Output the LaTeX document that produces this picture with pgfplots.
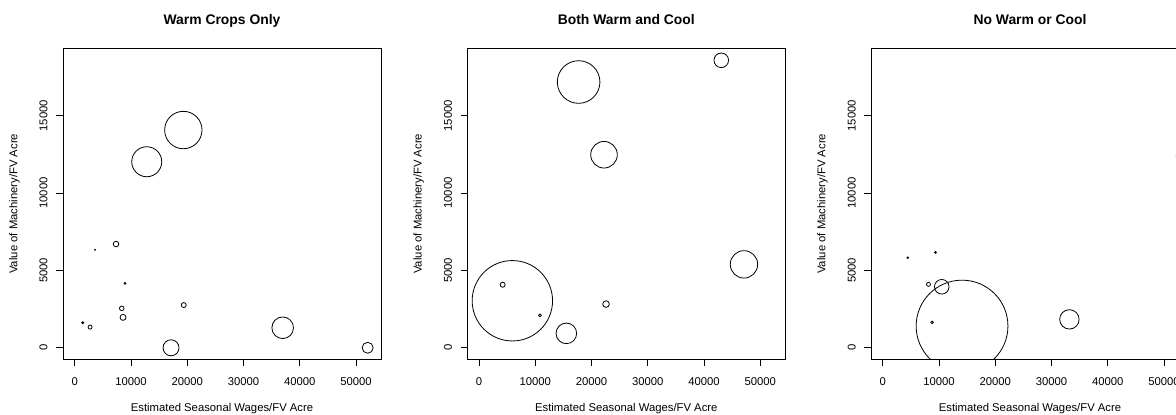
\documentclass[border=0pt]{standalone}
\usepackage{pgfplots}
\pgfplotsset{compat=1.18}
\usepackage{fontspec}
\setmainfont{Liberation Sans}

\pgfplotstableread{
x y r
19300 14076 18.7
12796 12026 15
7340 6705 2.8
3608 6336 0.5
8940 4164 0.9
8353 2547 2.3
8584 1966 3
19371 2761 2.5
1422 1616 1
2719 1338 2
17114 0 8
36965 1293 10.8
52070 0 5.5
}\warm

\pgfplotstableread{
x y r
17700 17179 21.3
43060 18583 7.3
22214 12479 13.3
47094 5392 13.7
5918 3039 40.2
4194 4073 2.5
10840 2095 1.4
22570 2826 3.3
15515 931 10.3
}\both

\pgfplotstableread{
x y r
14093 1403 45.9
10485 3944 7.3
8121 4099 2
4443 5819 0.9
9365 6168 0.9
8761 1642 1.3
33179 1836 9.7
52300 12350 0.8
}\none

\pgfplotsset{
  rpanel/.style={
    anchor=south west,
    width=318pt, height=311pt, scale only axis,
    xmin=-2094, xmax=54444, ymin=-745, ymax=19359,
    xtick={0,10000,20000,30000,40000,50000},
    ytick={0,5000,10000,15000},
    scaled ticks=false,
    /pgf/number format/.cd, fixed, set thousands separator={}, assume math mode=true, /pgfplots/.cd,
    xtick pos=bottom, ytick pos=left,
    tick align=outside,
    major tick length=6.7pt,
    tick style={line width=0.8pt, black},
    axis line style={line width=0.9pt},
    ticklabel style={font=\fontsize{11.3}{13}\selectfont},
    xticklabel style={anchor=base, inner sep=0pt},
    xticklabel shift=19.7pt,
    yticklabel style={rotate=90, anchor=base, inner sep=0pt},
    yticklabel shift=8.8pt,
    every axis x label/.style={at={(axis description cs:0.5,-0.1672)}, anchor=base, font=\fontsize{11.3}{13}\selectfont},
    every axis y label/.style={at={(axis description cs:-0.1437,0.5)}, rotate=90, anchor=base, font=\fontsize{11.3}{13}\selectfont},
    every axis title/.style={at={(axis description cs:0.5,1.0772)}, anchor=base, font=\bfseries\fontsize{13.9}{16}\selectfont},
    xlabel={Estimated Seasonal Wages/FV Acre},
    ylabel={Value of Machinery/FV Acre},
    clip marker paths=true,
  },
  bubbles/.style={
    scatter, only marks, mark=o, line width=0.8pt,
    scatter/use mapped color={draw=black, fill=none},
    visualization depends on={\thisrow{r} \as \rad},
    scatter/@pre marker code/.append style={/tikz/mark size=\rad pt},
  },
}

\begin{document}
\begin{tikzpicture}
\useasboundingbox (0,0) rectangle (1176pt,415pt);
\clip (0,0) rectangle (1176pt,415pt);
\begin{axis}[rpanel, at={(63pt,55.7pt)}, title={Warm Crops Only}]
\addplot[bubbles] table[x=x, y=y] {\warm};
\end{axis}
\begin{axis}[rpanel, at={(467.3pt,55.7pt)}, title={Both Warm and Cool}]
\addplot[bubbles] table[x=x, y=y] {\both};
\end{axis}
\begin{axis}[rpanel, at={(871pt,55.7pt)}, title={No Warm or Cool}]
\addplot[bubbles] table[x=x, y=y] {\none};
\end{axis}
\end{tikzpicture}
\end{document}
